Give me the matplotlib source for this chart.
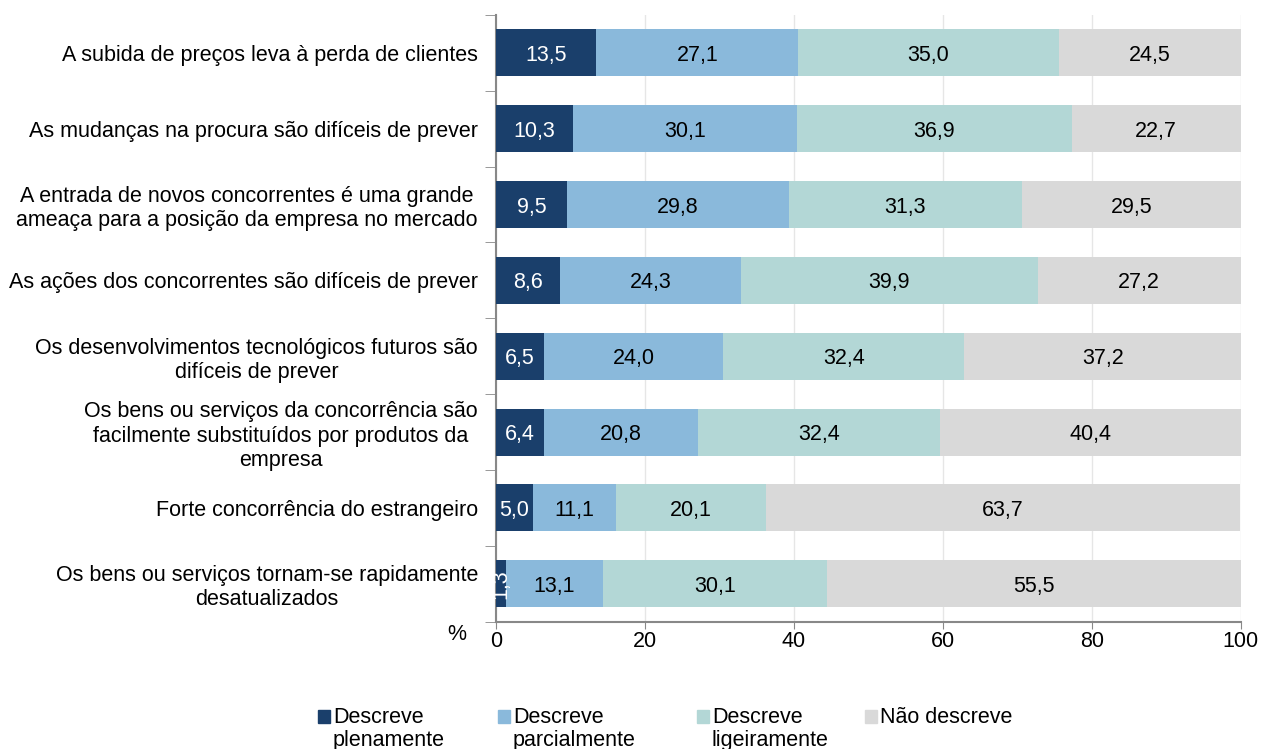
import matplotlib.pyplot as plt
from matplotlib.patches import Rectangle
import numpy as np

plt.rcParams['font.family'] = ['Liberation Sans', 'DejaVu Sans']

categories = [
    "A subida de preços leva à perda de clientes",
    "As mudanças na procura são difíceis de prever",
    "A entrada de novos concorrentes é uma grande\nameaça para a posição da empresa no mercado",
    "As ações dos concorrentes são difíceis de prever",
    "Os desenvolvimentos tecnológicos futuros são\ndifíceis de prever",
    "Os bens ou serviços da concorrência são\nfacilmente substituídos por produtos da\nempresa",
    "Forte concorrência do estrangeiro",
    "Os bens ou serviços tornam-se rapidamente\ndesatualizados",
]
plenamente = [13.5, 10.3, 9.5, 8.6, 6.5, 6.4, 5.0, 1.3]
parcialmente = [27.1, 30.1, 29.8, 24.3, 24.0, 20.8, 11.1, 13.1]
ligeiramente = [35.0, 36.9, 31.3, 39.9, 32.4, 32.4, 20.1, 30.1]
nao_descreve = [24.5, 22.7, 29.5, 27.2, 37.2, 40.4, 63.7, 55.5]

series = [plenamente, parcialmente, ligeiramente, nao_descreve]
names = ["Descreve\nplenamente", "Descreve\nparcialmente", "Descreve\nligeiramente", "Não descreve"]
colors = ["#1a3f6b", "#8ab9db", "#b3d7d6", "#d9d9d9"]
txt_colors = ["white", "black", "black", "black"]

FS = 15.5
W, H = 1262, 749

fig = plt.figure(figsize=(12.62, 7.49), dpi=100)
ax = fig.add_axes([0.393, 0.170, 0.590, 0.810])

y = np.arange(len(categories))
left = np.zeros(len(categories))
for vals, name, c, tc in zip(series, names, colors, txt_colors):
    vals = np.array(vals)
    ax.barh(y, vals, left=left, height=0.62, color=c, label=name, zorder=3)
    for yi, (l, v) in enumerate(zip(left, vals)):
        s = f"{v:.1f}".replace(".", ",")
        if v < 3:
            # too thin for horizontal text: rotated like the original
            ax.text(l + v / 2, yi, s, ha="center", va="center", color=tc,
                    fontsize=FS, rotation=90, zorder=4)
        else:
            ax.text(l + v / 2, yi, s, ha="center", va="center_baseline",
                    color=tc, fontsize=FS, zorder=4)
    left += vals

ax.set_xlim(0, 100)
ax.set_ylim(len(categories) - 0.5, -0.5)
ax.set_xticks([0, 20, 40, 60, 80, 100])
ax.tick_params(axis="x", labelsize=FS, length=5, color="#888888", pad=2)
ax.set_yticks(y)
ax.set_yticklabels(categories, fontsize=FS, multialignment="center",
                   linespacing=1.2)
ax.tick_params(axis="y", which="major", length=0, pad=13)
ax.set_yticks(np.arange(-0.5, len(categories), 1), minor=True)
ax.tick_params(axis="y", which="minor", length=8, color="#888888")
ax.grid(axis="x", color="#e6e6e6", linewidth=1, zorder=0)
for sp in ["top", "right"]:
    ax.spines[sp].set_visible(False)
for sp in ["left", "bottom"]:
    ax.spines[sp].set_color("#888888")
    ax.spines[sp].set_linewidth(1.5)

ax.text(-0.04, -0.004, "%", transform=ax.transAxes, fontsize=FS,
        ha="right", va="top")

# legend drawn by hand so the swatch sits beside the first line
leg_x = [318, 498, 697, 865]
for lx, name, c in zip(leg_x, names, colors):
    fig.patches.append(Rectangle((lx / W, (H - 723) / H), 12 / W, 13 / H,
                                 transform=fig.transFigure, color=c))
    fig.text((lx + 15) / W, (H - 707) / H, name, fontsize=FS, ha="left",
             va="top", linespacing=1.15)

fig.savefig("out.png", dpi=100)
